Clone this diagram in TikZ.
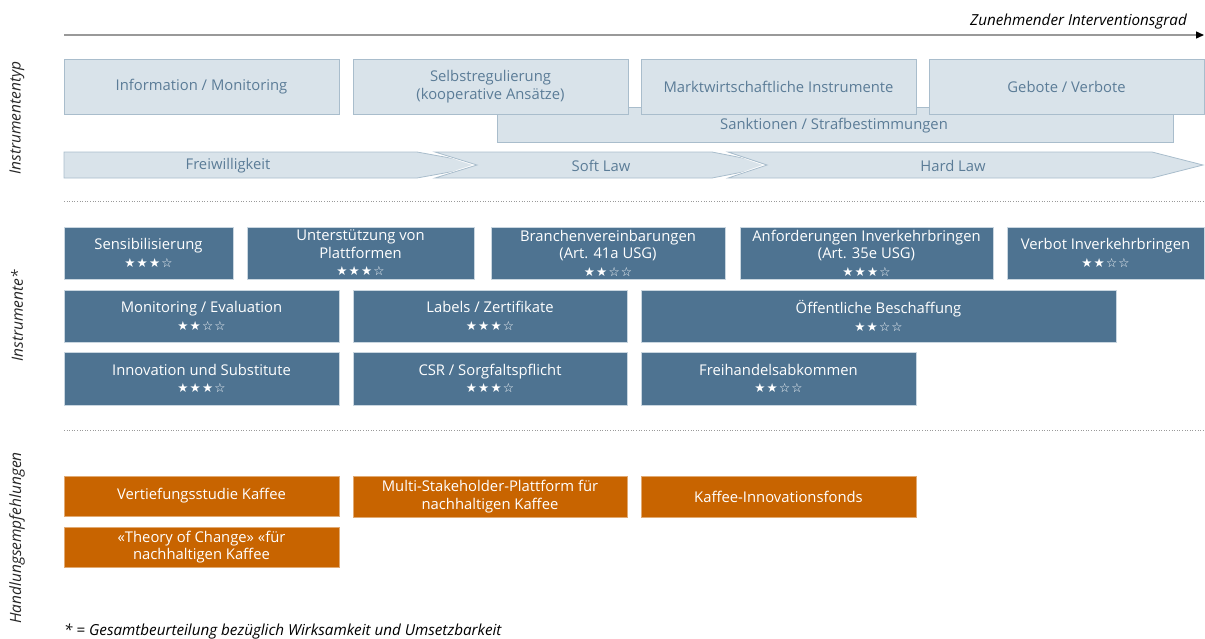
\documentclass[tikz,border=0pt]{standalone}
\usepackage{fontspec}
\setmainfont{Open Sans}
\newfontfamily\starfont{DejaVu Sans}
\usetikzlibrary{arrows.meta}

\definecolor{lfill}{HTML}{D9E3EA}
\definecolor{lline}{HTML}{A9BDCC}
\definecolor{ltext}{HTML}{5B7C97}
\definecolor{dfill}{HTML}{4E7391}
\definecolor{dline}{HTML}{C9D6E0}
\definecolor{ofill}{HTML}{C86400}
\definecolor{sepc}{HTML}{9A9A9A}

% star ratings
\newcommand\fst{★\kern1.2pt}
\newcommand\est{☆\kern1.2pt}
\newcommand\rating[1]{{\starfont\fontsize{12.5}{14}\selectfont #1\unskip}}
\newcommand\three{\rating{\fst\fst\fst☆}}
\newcommand\two{\rating{\fst\fst\est☆}}

% box from (x1,y1) to (x2,y2)
\newcommand\bx[7]{\node[#6, minimum width={(#4)-(#2)}, minimum height={(#5)-(#3)}] (#1) at ({((#2)+(#4))/2},{((#3)+(#5))/2}) {#7};}

\tikzset{
  box/.style={inner sep=0pt, outer sep=0pt, align=center,
    font=\fontsize{14.8}{17.5}\selectfont},
  lbox/.style={box, fill=lfill, draw=lline, line width=0.8pt, text=ltext},
  dbox/.style={box, fill=dfill, draw=dline, line width=0.5pt, text=white},
  obox/.style={box, fill=ofill, draw=ofill!55!white, line width=0.5pt, text=white},
  chev/.style={fill=lfill, draw=lline, line width=0.8pt},
  chevtext/.style={text=ltext, font=\fontsize{14.8}{16}\selectfont},
  side/.style={rotate=90, font=\itshape\fontsize{15.5}{17}\selectfont, text=black!85},
  sepline/.style={sepc, line width=0.7pt, dash pattern=on 1pt off 1.6pt},
}

\begin{document}
\begin{tikzpicture}[x=1pt,y=-1pt]
\useasboundingbox (0,0) rectangle (1205,638);

% axis of increasing intervention
\coordinate (ax0) at (64,35);
\coordinate (ax1) at (1204,35);
\draw[black!40, line width=1.4pt, -{Triangle[color=black,length=8pt,width=7pt]}] (ax0) -- (ax1);
\node[anchor=base east, inner sep=0pt, font=\itshape\fontsize{15.2}{17}\selectfont] (grad) at (1187,25) {Zunehmender Interventionsgrad};

% instrument types
\bx{sank}{497}{107}{1173}{142}{lbox}{}
\node[text=ltext, font=\fontsize{14.8}{16}\selectfont] (sanktxt) at (834,126) {Sanktionen / Strafbestimmungen};
\bx{info}{64}{59}{339}{114}{lbox}{Information / Monitoring}
\bx{selbst}{353}{59}{628}{114}{lbox}{Selbstregulierung\\(kooperative Ansätze)}
\bx{markt}{641}{59}{916}{114}{lbox}{Marktwirtschaftliche Instrumente}
\bx{gebote}{929}{59}{1204}{114}{lbox}{Gebote / Verbote}

% legal character chevrons
\draw[chev] (64,152) -- (417,152) -- (489,165) -- (417,178) -- (64,178) -- cycle;
\draw[white, line width=2.2pt] (433,151) -- (476,165) -- (433,179);
\draw[chev] (435,152) -- (712,152) -- (779,165) -- (712,178) -- (435,178) -- (477,165) -- cycle;
\draw[white, line width=2.2pt] (726,151) -- (766,165) -- (726,179);
\draw[chev] (728,152) -- (1152,152) -- (1203,165) -- (1152,178) -- (728,178) -- (767,165) -- cycle;
\node[chevtext] (frei) at (228,166) {Freiwilligkeit};
\node[chevtext] (soft) at (601,166) {Soft Law};
\node[chevtext] (hard) at (953,166) {Hard Law};

% separators
\coordinate (s1a) at (64,201);  \coordinate (s1b) at (1205,201);
\coordinate (s2a) at (64,430);  \coordinate (s2b) at (1205,430);
\draw[sepline] (s1a) -- (s1b);
\draw[sepline] (s2a) -- (s2b);

% instruments
\bx{sens}{64}{227}{233}{279}{dbox}{Sensibilisierung\\\three}
\bx{plat}{247}{227}{474}{279}{dbox}{Unterstützung von\\Plattformen\\\three}
\bx{bran}{491}{227}{725}{279}{dbox}{Branchenvereinbarungen\\(Art. 41a USG)\\\two}
\bx{anf}{740}{227}{993}{279}{dbox}{Anforderungen Inverkehrbringen\\(Art. 35e USG)\\\three}
\bx{verb}{1007}{227}{1204}{279}{dbox}{Verbot Inverkehrbringen\\\two}

\bx{moni}{64}{290}{339}{342}{dbox}{Monitoring / Evaluation\\\two}
\bx{lab}{353}{290}{627}{342}{dbox}{Labels / Zertifikate\\\three}
\bx{oeff}{641}{290}{1116}{342}{dbox}{Öffentliche Beschaffung\\\two}

\bx{inno}{64}{352}{339}{405}{dbox}{Innovation und Substitute\\\three}
\bx{csr}{353}{352}{627}{405}{dbox}{CSR / Sorgfaltspflicht\\\three}
\bx{frh}{641}{352}{916}{405}{dbox}{Freihandelsabkommen\\\two}

% recommendations
\bx{vert}{64}{476}{339}{516}{obox}{Vertiefungsstudie Kaffee}
\bx{multi}{353}{476}{627}{517}{obox}{Multi-Stakeholder-Plattform für\\nachhaltigen Kaffee}
\bx{fonds}{641}{476}{916}{517}{obox}{Kaffee-Innovationsfonds}
\bx{toc}{64}{527}{339}{567}{obox}{«Theory of Change» «für\\nachhaltigen Kaffee}

% row titles
\node[side] (t1) at (17,118) {Instrumententyp};
\node[side] (t2) at (17,316) {Instrumente*};
\node[side] (t3) at (17,538) {Handlungsempfehlungen};

% footnote
\node[anchor=base west, inner sep=0pt, font=\itshape\fontsize{15.2}{17}\selectfont] (note) at (64,635) {* = Gesamtbeurteilung bezüglich Wirksamkeit und Umsetzbarkeit};
\end{tikzpicture}
\end{document}
